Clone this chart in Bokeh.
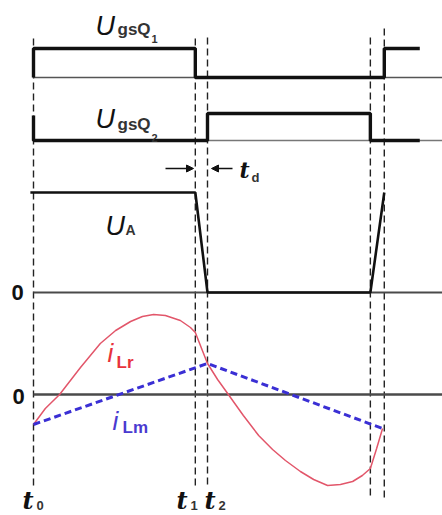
import numpy as np
from bokeh.plotting import figure
from bokeh.models import Range1d, Arrow, NormalHead
from bokeh.core.properties import value
from bokeh.embed import file_html
from bokeh.resources import INLINE

# switching instants (time in arbitrary units)
t0, t1, t2, t3, t4 = 0.0, 4.65, 5.0, 9.68, 10.08
t_stop = 11.1

# gate drive of Q1 (1 = on)
q1_t = [t0, t0, t1, t1, t4, t4, t_stop]
q1_v = [0, 1, 1, 0, 0, 1, 1]

# gate drive of Q2 (1 = on)
q2_t = [t0, t0, t2, t2, t3, t3, t_stop]
q2_v = [0.93, 0, 0, 1, 1, 0, 0]

# bridge midpoint voltage U_A, normalised to the bus voltage
ua_t = [-0.09, t1, t2, t3, t4]
ua_v = [1, 1, 0, 0, 1]

# magnetising current i_Lm
ilm_t = [t0, t2, 10.03]
ilm_v = [-3.0, 3.1, -3.4]

# resonant current i_Lr
ilr_t = [0.00, 0.34, 0.75, 1.35, 1.92, 2.36, 2.79, 3.13, 3.45, 3.79,
         4.22, 4.51, 4.65, 4.83, 5.00, 5.29, 5.60, 6.03, 6.47, 6.87,
         7.24, 7.67, 8.05, 8.45, 8.82, 9.17, 9.45, 9.68, 9.86, 10.03]
ilr_v = [-3.0, -1.4, 0.0, 2.7, 5.1, 6.4, 7.3, 7.8, 8.0, 7.9,
         7.4, 6.7, 6.2, 4.6, 3.1, 1.5, 0.0, -2.1, -4.1, -5.5,
         -6.6, -7.7, -8.5, -9.1, -9.0, -8.7, -8.1, -7.4, -5.4, -3.4]

# ---- layout: horizontal scale and vertical placement of each trace ----
X_ORIGIN = 33.0      # screen column of t0
X_SCALE = 34.8       # screen pixels per time unit
W, H = 442, 515


def X(px):
    """Screen column -> time coordinate (for placing annotations)."""
    return (px - X_ORIGIN) / X_SCALE


Q1_BASE, Q1_AMP = 77, 29
Q2_BASE, Q2_AMP = 140, 27
UA_BASE, UA_AMP = 292, 100
I_ZERO, I_SCALE = 394, 10

p = figure(width=W, height=H, x_range=Range1d(X(0), X(W)),
           y_range=Range1d(H, 0), x_axis_type=None, y_axis_type=None,
           output_backend="svg", toolbar_location=None, min_border=0)
p.grid.visible = False
p.outline_line_color = None
p.background_fill_color = "white"

INK = "#111111"
AXIS = "#4a4a4a"

# vertical dashed markers at the switching instants
p.segment(x0=[t0, t1, t2, t3, t4], x1=[t0, t1, t2, t3, t4],
          y0=[38, 38, 37, 37, 28], y1=[485, 487, 487, 495, 497],
          line_color="#222222", line_width=1.4, line_dash="7 4")

# baselines
end_t = X(W)
for base, lw, col in [(Q1_BASE, 1.3, "#555555"), (Q2_BASE, 1.3, "#777777"),
                      (UA_BASE, 2.2, AXIS), (I_ZERO, 2.6, AXIS)]:
    p.line([t0, end_t], [base, base], line_color=col, line_width=lw)

# gate signals
p.line(q1_t, Q1_BASE - Q1_AMP * np.array(q1_v), line_color=INK, line_width=3.4)
p.line(q2_t, Q2_BASE - Q2_AMP * np.array(q2_v), line_color=INK, line_width=3.4)

# midpoint voltage
p.line(ua_t, UA_BASE - UA_AMP * np.array(ua_v), line_color=INK, line_width=2.6)

# currents
p.line(ilr_t, I_ZERO - I_SCALE * np.array(ilr_v), line_color="#e2566a", line_width=1.5)
p.line(ilm_t, I_ZERO - I_SCALE * np.array(ilm_v), line_color="#3a2fd4",
       line_width=3.0, line_dash="7 4")

# dead-time arrows
for xs, xe in [(165, 193), (232, 211)]:
    p.add_layout(Arrow(end=NormalHead(size=7, fill_color=INK, line_color=INK),
                       x_start=X(xs), y_start=168, x_end=X(xe), y_end=168,
                       line_color=INK, line_width=1.5))

SANS = value("Liberation Sans")
SERIF = value("DejaVu Serif")


def label(px, base_y, txt, size, color=INK, font=SANS, style="normal",
          align="left"):
    """Place text so that its baseline sits at screen row base_y."""
    p.text(x=[X(px)], y=[base_y - 0.35 * size], text=[txt], text_font=font,
           text_font_size=f"{size}px", text_font_style=style,
           text_color=color, text_align=align, text_baseline="middle")


SUB = "#333333"
# gate voltage labels
label(95, 35, "U", 27, style="italic")
label(117, 35, "gsQ", 17, SUB, style="bold")
label(151, 42, "1", 11, SUB, style="bold")
label(95, 128, "U", 27, style="italic")
label(117, 130, "gsQ", 17, SUB, style="bold")
label(151, 141, "2", 11, SUB, style="bold")

# midpoint voltage label
label(105, 235, "U", 27, style="italic")
label(125, 234, "A", 14, SUB, style="bold")

# zero markers
label(17, 300, "0", 22, style="bold", align="center")
label(18, 404, "0", 22, style="bold", align="center")

# current labels
RED, BLUE = "#e8323c", "#4a3ad0"
label(107, 362, "i", 26, RED, style="italic")
label(116, 368, "Lr", 17, RED, style="bold")
label(112, 430, "i", 26, BLUE, style="italic")
label(122, 433, "Lm", 17, BLUE, style="bold")

# dead time label
label(239, 177, "t", 22, font=SERIF, style="bold italic")
label(251, 182, "d", 13, SUB, style="bold")

# time instants
for px, sub in [(22, "0"), (176, "1"), (204, "2")]:
    label(px, 508, "t", 24, font=SERIF, style="bold italic")
    label(px + 14, 510, sub, 13, SUB, style="bold")

open("out.html", "w").write(file_html(p, INLINE))
